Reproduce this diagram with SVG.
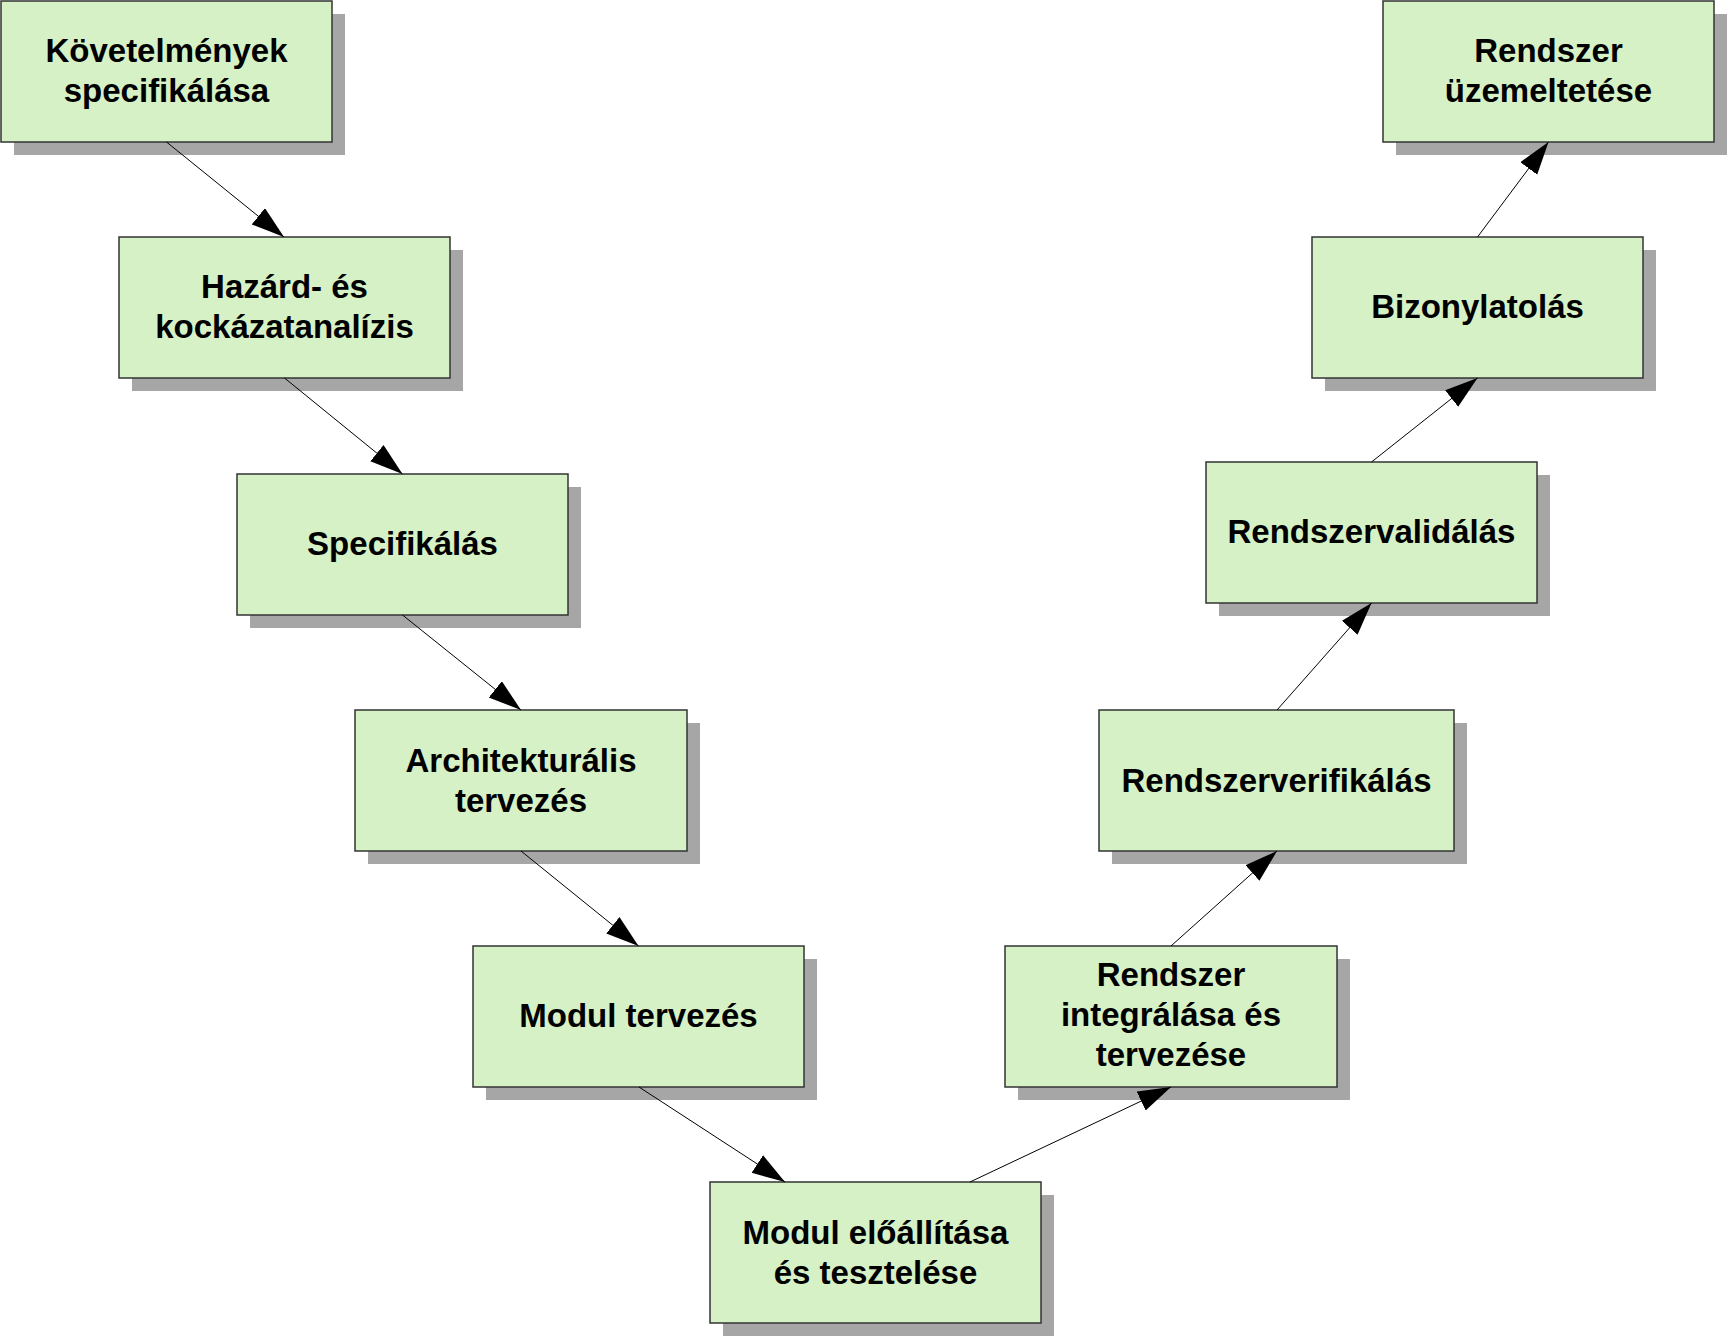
<svg xmlns="http://www.w3.org/2000/svg" width="1729" height="1339" viewBox="0 0 1729 1339">
<style>
.sh{fill:#a6a6a6;stroke:none}
.bx{fill:#d6f1c6;stroke:#333333;stroke-width:1.5}
.tx{font-family:"Liberation Sans",Arial,sans-serif;font-weight:bold;font-size:33px;fill:#000;text-anchor:middle}
.cn{stroke:#000;stroke-width:1;fill:none;marker-end:url(#ah)}
</style>
<defs>
<marker id="ah" markerUnits="userSpaceOnUse" markerWidth="34" markerHeight="22" refX="33" refY="10.5" orient="auto">
<path d="M0,0 L33,10.5 L0,21 z" fill="#000"/>
</marker>
</defs>
<rect width="1729" height="1339" fill="#fff"/>
<g id="n1"><rect class="sh" x="14" y="14" width="331" height="141"/><rect class="bx" x="1" y="1" width="331" height="141"/><text class="tx" x="166.5" y="62">Követelmények</text><text class="tx" x="166.5" y="102">specifikálása</text></g>
<g id="n2"><rect class="sh" x="132" y="250" width="331" height="141"/><rect class="bx" x="119" y="237" width="331" height="141"/><text class="tx" x="284.5" y="298">Hazárd- és</text><text class="tx" x="284.5" y="338">kockázatanalízis</text></g>
<g id="n3"><rect class="sh" x="250" y="487" width="331" height="141"/><rect class="bx" x="237" y="474" width="331" height="141"/><text class="tx" x="402.5" y="555">Specifikálás</text></g>
<g id="n4"><rect class="sh" x="368" y="723" width="332" height="141"/><rect class="bx" x="355" y="710" width="332" height="141"/><text class="tx" x="521" y="772">Architekturális</text><text class="tx" x="521" y="812">tervezés</text></g>
<g id="n5"><rect class="sh" x="486" y="959" width="331" height="141"/><rect class="bx" x="473" y="946" width="331" height="141"/><text class="tx" x="638.5" y="1027">Modul tervezés</text></g>
<g id="n6"><rect class="sh" x="723" y="1195" width="331" height="141"/><rect class="bx" x="710" y="1182" width="331" height="141"/><text class="tx" x="875.5" y="1244">Modul előállítása</text><text class="tx" x="875.5" y="1284">és tesztelése</text></g>
<g id="n7"><rect class="sh" x="1018" y="959" width="332" height="141"/><rect class="bx" x="1005" y="946" width="332" height="141"/><text class="tx" x="1171" y="986">Rendszer</text><text class="tx" x="1171" y="1026">integrálása és</text><text class="tx" x="1171" y="1066">tervezése</text></g>
<g id="n8"><rect class="sh" x="1112" y="723" width="355" height="141"/><rect class="bx" x="1099" y="710" width="355" height="141"/><text class="tx" x="1276.5" y="792">Rendszerverifikálás</text></g>
<g id="n9"><rect class="sh" x="1219" y="475" width="331" height="141"/><rect class="bx" x="1206" y="462" width="331" height="141"/><text class="tx" x="1371.5" y="543">Rendszervalidálás</text></g>
<g id="n10"><rect class="sh" x="1325" y="250" width="331" height="141"/><rect class="bx" x="1312" y="237" width="331" height="141"/><text class="tx" x="1477.5" y="318">Bizonylatolás</text></g>
<g id="n11"><rect class="sh" x="1396" y="14" width="331" height="141"/><rect class="bx" x="1383" y="1" width="331" height="141"/><text class="tx" x="1548.5" y="62">Rendszer</text><text class="tx" x="1548.5" y="102">üzemeltetése</text></g>
<g id="connectors">
<line class="cn" x1="166.5" y1="142" x2="284" y2="237"/>
<line class="cn" x1="284.5" y1="378" x2="402.5" y2="474"/>
<line class="cn" x1="402.5" y1="615" x2="521" y2="710"/>
<line class="cn" x1="521" y1="851" x2="638.5" y2="946"/>
<line class="cn" x1="639" y1="1087" x2="785" y2="1182"/>
<line class="cn" x1="970" y1="1182" x2="1171" y2="1087"/>
<line class="cn" x1="1171" y1="946" x2="1277" y2="851"/>
<line class="cn" x1="1277" y1="710" x2="1371.5" y2="603"/>
<line class="cn" x1="1371.5" y1="462" x2="1477.5" y2="378"/>
<line class="cn" x1="1477.5" y1="237" x2="1548.5" y2="142"/>
</g>
</svg>
